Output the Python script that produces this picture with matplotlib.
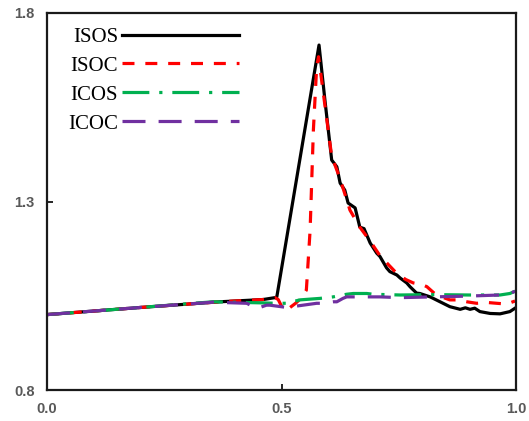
import matplotlib.pyplot as plt

# ISOS: sharp rise at x~0.49, peak at 0.58, noisy decay
isos_x = [0.0, 0.20, 0.369, 0.461, 0.486, 0.490, 0.580, 0.593, 0.607, 0.618, 0.625,
          0.635, 0.642, 0.657, 0.667, 0.676, 0.689, 0.703, 0.710, 0.724, 0.731,
          0.746, 0.753, 0.767, 0.774, 0.788, 0.795, 0.817, 0.838, 0.859, 0.881,
          0.892, 0.902, 0.912, 0.923, 0.945, 0.966, 0.987, 0.998]
isos_y = [1.000, 1.019, 1.034, 1.040, 1.045, 1.047, 1.715, 1.564, 1.410, 1.392, 1.349,
          1.330, 1.296, 1.283, 1.232, 1.228, 1.190, 1.163, 1.154, 1.124, 1.114,
          1.105, 1.097, 1.084, 1.074, 1.057, 1.056, 1.047, 1.034, 1.021, 1.014,
          1.018, 1.014, 1.017, 1.008, 1.003, 1.002, 1.008, 1.017]

# ISOC: dips after 0.49, steep rise at 0.55
isoc_x = [0.0, 0.20, 0.369, 0.461, 0.486, 0.493, 0.503, 0.511, 0.530, 0.543, 0.553,
          0.561, 0.568, 0.575, 0.579, 0.593, 0.607, 0.625, 0.646, 0.667, 0.689,
          0.710, 0.746, 0.765, 0.781, 0.799, 0.810, 0.830, 0.859, 0.874, 0.895,
          0.916, 0.940, 0.959, 0.980, 0.998]
isoc_y = [1.000, 1.019, 1.034, 1.040, 1.045, 1.040, 1.015, 1.012, 1.030, 1.045, 1.065,
          1.224, 1.490, 1.658, 1.684, 1.551, 1.420, 1.360, 1.277, 1.232, 1.195,
          1.156, 1.109, 1.093, 1.084, 1.080, 1.074, 1.052, 1.039, 1.039, 1.034,
          1.030, 1.032, 1.030, 1.028, 1.036]

# ICOS
icos_x = [0.0, 0.20, 0.354, 0.461, 0.490, 0.511, 0.539, 0.582, 0.610, 0.639, 0.653,
          0.682, 0.695, 0.753, 0.823, 0.900, 0.966, 0.987, 0.998]
icos_y = [1.000, 1.019, 1.034, 1.031, 1.030, 1.030, 1.039, 1.043, 1.047, 1.054, 1.056,
          1.056, 1.054, 1.052, 1.053, 1.052, 1.052, 1.056, 1.062]

# ICOC
icoc_x = [0.0, 0.20, 0.354, 0.426, 0.440, 0.447, 0.468, 0.475, 0.511, 0.575, 0.582,
          0.610, 0.618, 0.631, 0.639, 0.667, 0.710, 0.753, 0.895, 0.966, 0.987, 0.998]
icoc_y = [1.000, 1.019, 1.033, 1.030, 1.021, 1.016, 1.025, 1.025, 1.019, 1.030, 1.030,
          1.034, 1.034, 1.043, 1.047, 1.047, 1.047, 1.045, 1.049, 1.052, 1.056, 1.062]

x_ticks = [0.0, 0.5, 1.0]
y_ticks = [0.8, 1.3, 1.8]

fig = plt.figure(figsize=(5.29, 4.21), dpi=100)
ax = fig.add_axes([47/529, 31/421, 469/529, 377/421])

lw = 2.3
ax.plot(isos_x, isos_y, color='black', lw=lw, label='ISOS')
ax.plot(isoc_x, isoc_y, color='#ff0000', lw=lw, dashes=(3.75, 3.4), label='ISOC')
ax.plot(icos_x, icos_y, color='#00b050', lw=lw, dashes=(8.4, 3.1, 1.0, 3.1), label='ICOS')
ax.plot(icoc_x, icoc_y, color='#7030a0', lw=lw, dashes=(7.2, 4.1), label='ICOC')

ax.set_xlim(0, 1)
ax.set_ylim(0.8, 1.8)
ax.set_xticks(x_ticks)
ax.set_yticks(y_ticks)
ax.set_xticklabels(['%.1f' % v for v in x_ticks])
ax.set_yticklabels(['%.1f' % v for v in y_ticks])
ax.tick_params(direction='in', length=4, width=1.2, colors='black',
               labelcolor='#595959', labelsize=10.5)
ax.tick_params(axis='x', pad=8.5)
ax.tick_params(axis='y', pad=9)
for lab in ax.get_xticklabels() + ax.get_yticklabels():
    lab.set_fontfamily('Liberation Sans')
    lab.set_fontweight('bold')
for sp in ax.spines.values():
    sp.set_linewidth(1.6)
    sp.set_color('#1a1a1a')

ax.legend(loc='upper left', bbox_to_anchor=(0.005, 1.012), frameon=False,
          markerfirst=False, handlelength=5.6, handletextpad=0.2,
          labelspacing=0.45, prop={'family': 'Liberation Serif', 'size': 15})

fig.savefig('out.png', dpi=100)
